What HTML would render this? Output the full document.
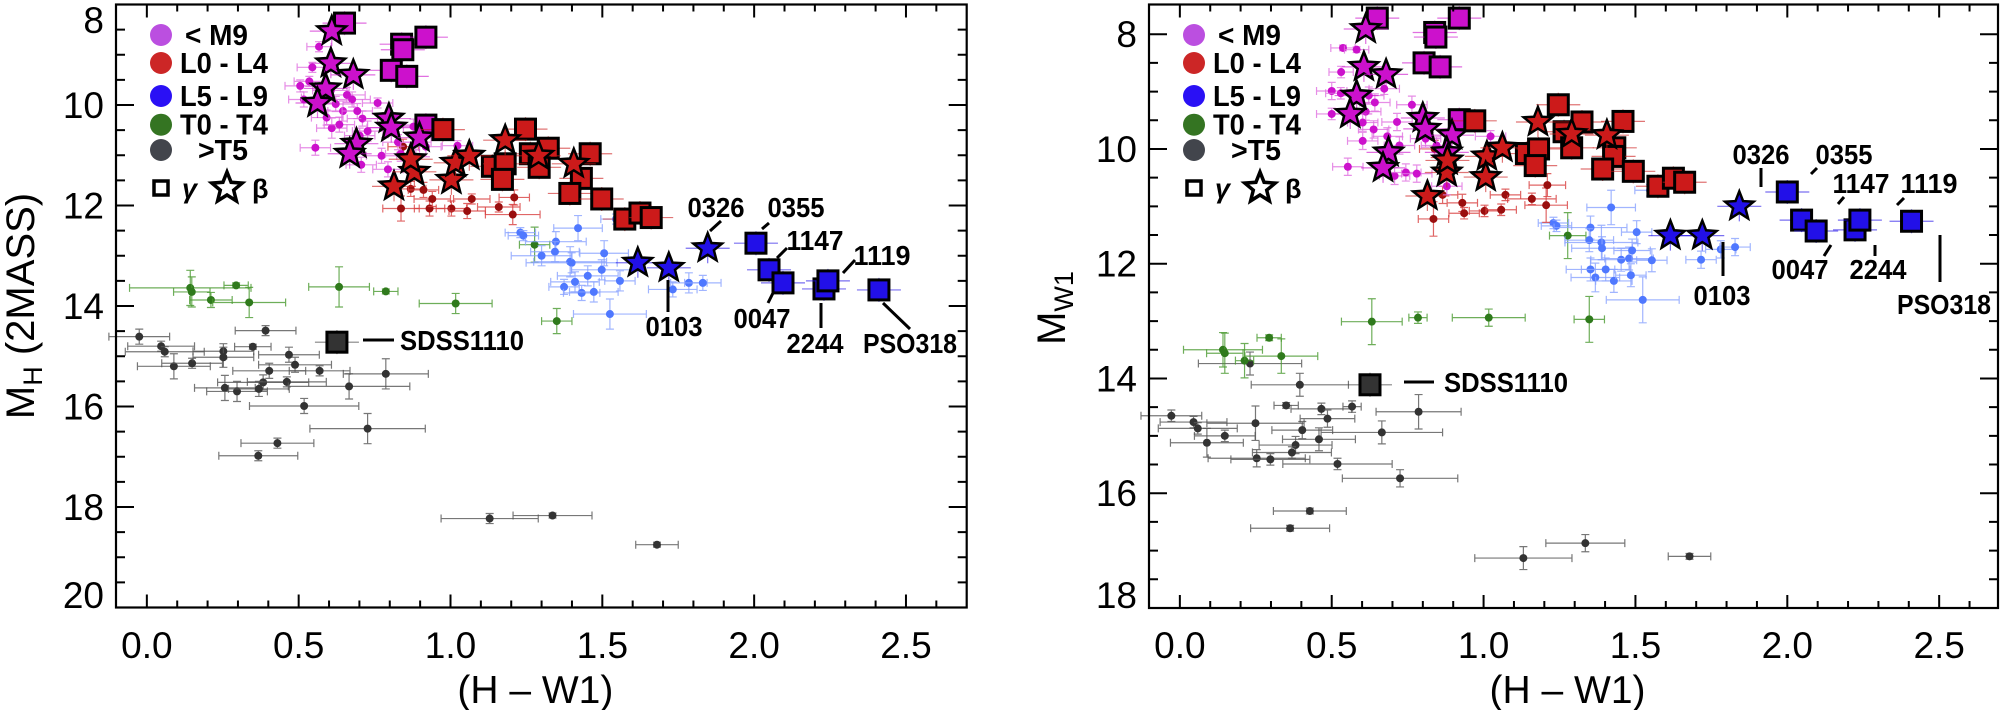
<!DOCTYPE html>
<html><head><meta charset="utf-8"><style>
html,body{margin:0;padding:0;background:#fff;}
svg{display:block;font-family:"Liberation Sans",Arial,sans-serif;}
</style></head><body>
<svg id="chart" width="2001" height="710" viewBox="0 0 2001 710" xmlns="http://www.w3.org/2000/svg">
<g id="layer"></g>
</svg>
<script>
const xTicks = [0.0, 0.5, 1.0, 1.5, 2.0, 2.5];
const xTickLabels = ["0.0","0.5","1.0","1.5","2.0","2.5"];
const leftYTicks = [8,10,12,14,16,18,20];
const rightYTicks = [8,10,12,14,16,18];
const L_magDots = [[0.505,9.62,.05,.12],[0.535,9.53,.05,.1],[0.567,8.84,.04,.1],[0.545,9.25,.05,.1],[0.606,9.71,.06,.15],[0.622,9.98,.06,.15],[0.646,10.12,.05,.2],[0.676,9.89,.06,.15],[0.71,10.27,.05,.15],[0.76,9.96,.05,.1],[0.785,10.45,.06,.2],[0.592,10.25,.05,.15],[0.609,10.46,.05,.2],[0.555,10.85,.05,.15],[0.706,11.19,.05,.15],[0.773,11.01,.05,.15],[0.836,10.97,.05,.15],[0.878,10.43,.05,.15],[0.919,10.83,.05,.2],[1.023,10.81,.05,.1],[0.794,11.28,.05,.15],[0.701,10.61,.05,.15],[0.517,9.89,.05,.15],[0.559,9.85,.05,.15],[0.659,9.8,.06,.15],[0.693,10.12,.05,.15],[0.727,10.52,.05,.2],[0.827,10.74,.05,.15],[0.634,10.39,.05,.15],[0.886,10.74,.05,.15]];
const L_redDots = [[0.837,12.06,.06,.25],[0.931,12.06,.05,.15],[0.94,11.87,.06,.15],[1.003,12.06,.05,.15],[1.055,12.11,.06,.15],[1.07,11.87,.06,.1],[1.159,12.03,.07,.1],[1.205,12.18,.09,.2],[1.21,11.84,.05,.15],[0.869,11.67,.05,.15],[0.844,10.83,.05,.15],[0.911,11.69,.05,.15]];
const L_blueDots = [[1.23,12.54,.05,.1],[1.24,12.6,.05,.1],[1.347,12.72,.1,.2],[1.344,12.92,.08,.2],[1.394,13.12,.12,.3],[1.42,12.45,.08,.25],[1.506,12.95,.08,.25],[1.399,13.14,.15,.2],[1.374,13.62,.05,.15],[1.41,13.52,.08,.2],[1.452,13.4,.1,.2],[1.498,13.28,.1,.2],[1.432,13.74,.06,.15],[1.472,13.72,.08,.2],[1.558,13.5,.05,.2],[1.525,14.16,.12,.3],[1.732,13.67,.08,.15],[1.785,13.54,.06,.2],[1.831,13.54,.06,.15],[1.545,12.27,.05,.1],[1.30,13.0,.1,.2]];
const L_greenDots = [[0.143,13.64,.2,.35],[0.148,13.72,.06,.3],[0.211,13.88,.07,.15],[0.294,13.59,.04,.05],[0.337,13.93,.12,.3],[0.633,13.62,.1,.4],[0.787,13.71,.04,.05],[1.017,13.95,.12,.2],[1.277,12.78,.05,.35],[1.35,14.3,.05,.25]];
const L_blackDots = [[-0.025,14.61,.1,.15],[0.047,14.8,.11,.1],[0.059,14.91,.13,.1],[0.089,15.2,.12,.25],[0.149,15.14,.1,.1],[0.252,14.9,.1,.15],[0.252,15.02,.1,.2],[0.257,15.63,.1,.25],[0.297,15.7,.1,.2],[0.349,14.81,.06,.05],[0.391,14.49,.1,.1],[0.403,15.29,.12,.15],[0.383,15.52,.15,.15],[0.369,15.65,.1,.15],[0.461,15.51,.13,.1],[0.468,14.97,.1,.15],[0.488,15.17,.12,.15],[0.569,15.29,.1,.1],[0.518,15.99,.18,.15],[0.666,15.6,.2,.25],[0.787,15.35,.14,.3],[0.727,16.44,.19,.3],[0.43,16.73,.12,.1],[0.367,16.98,.13,.1],[1.129,18.23,.16,.1],[1.336,18.17,.13,.05],[1.68,18.75,.07,.05]];
const L_magSq = [[0.651,8.37],[0.839,8.79],[0.843,8.9],[0.919,8.65],[0.805,9.31],[0.856,9.43],[0.919,10.4]];
const L_redSq = [[0.975,10.49],[1.247,10.48],[1.263,10.97],[1.322,10.86],[1.292,11.24],[1.138,11.22],[1.18,11.17],[1.171,11.48],[1.46,10.97],[1.431,11.46],[1.393,11.76],[1.498,11.87],[1.574,12.27],[1.624,12.15],[1.661,12.24]];
const L_blueSq = [[2.006,12.75],[2.049,13.28],[2.095,13.54],[2.23,13.66],[2.243,13.5],[2.411,13.68]];
const L_magStar = [[0.609,8.53],[0.606,9.17],[0.68,9.4],[0.589,9.67],[0.562,9.96],[0.797,10.27],[0.805,10.45],[0.69,10.77],[0.668,10.97],[0.898,10.65]];
const L_redStar = [[0.814,11.62],[0.881,11.33],[0.869,11.08],[1.003,11.49],[1.017,11.15],[1.062,11.01],[1.18,10.7],[1.29,11.01],[1.406,11.17]];
const L_blueStar = [[1.617,13.14],[1.719,13.24],[1.847,12.85]];
const L_sdss = [[0.626,14.72]];

const R_magDots = [[0.537,8.24,.04,.05],[0.582,8.27,.04,.05],[0.531,8.66,.04,.1],[0.5,8.99,.05,.15],[0.53,9.03,.05,.1],[0.622,9.07,.05,.15],[0.642,9.19,.05,.15],[0.673,8.95,.05,.1],[0.612,9.35,.05,.15],[0.602,9.54,.05,.15],[0.638,9.66,.05,.15],[0.715,9.53,.05,.15],[0.764,9.23,.05,.15],[0.809,9.82,.05,.15],[0.723,9.94,.05,.15],[0.602,9.86,.05,.15],[0.553,10.31,.05,.15],[0.707,10.47,.05,.15],[0.744,10.41,.05,.15],[0.78,10.43,.05,.15],[0.879,10.65,.05,.15],[1.023,9.78,.05,.1],[0.845,9.94,.05,.15],[0.5,9.39,.05,.1],[0.683,9.78,.05,.15]];
const R_redDots = [[0.839,10.0,.05,.15],[0.865,10.8,.05,.15],[0.835,11.22,.05,.3],[0.93,10.94,.05,.15],[0.936,11.12,.05,.1],[1.003,11.08,.05,.1],[1.058,11.06,.05,.1],[1.072,10.8,.05,.1],[1.159,10.87,.08,.1],[1.206,10.98,.07,.3],[1.21,10.63,.06,.2]];
const R_blueDots = [[1.23,11.29,.05,.1],[1.24,11.34,.05,.1],[1.352,11.37,.12,.2],[1.348,11.59,.08,.2],[1.388,11.63,.12,.3],[1.42,11.02,.08,.3],[1.39,11.73,.1,.2],[1.352,12.1,.08,.2],[1.402,12.1,.08,.2],[1.368,12.24,.08,.25],[1.429,12.3,.06,.2],[1.453,11.93,.1,.2],[1.479,11.91,.08,.2],[1.489,11.77,.06,.2],[1.485,12.2,.05,.2],[1.504,11.45,.05,.2],[1.554,11.94,.05,.2],[1.524,12.63,.12,.4],[1.548,10.72,.05,.1],[1.716,11.93,.05,.15],[1.781,11.75,.05,.15],[1.828,11.71,.05,.15]];
const R_greenDots = [[0.142,13.5,.13,.3],[0.148,13.56,.06,.35],[0.213,13.69,.03,.3],[0.294,13.29,.04,.05],[0.334,13.61,.12,.3],[0.632,13.01,.1,.4],[0.784,12.94,.03,.1],[1.017,12.94,.12,.15],[1.277,11.51,.06,.4],[1.348,12.97,.05,.4]];
const R_blackDots = [[-0.028,14.65,.1,.1],[0.045,14.76,.11,.1],[0.059,14.87,.13,.1],[0.089,15.12,.12,.25],[0.148,15.0,.1,.1],[0.231,13.74,.17,.2],[0.249,14.78,.16,.3],[0.253,15.39,.16,.15],[0.298,15.41,.13,.1],[0.35,14.47,.04,.05],[0.395,14.11,.16,.2],[0.403,14.9,.1,.15],[0.381,15.16,.12,.15],[0.369,15.29,.13,.1],[0.458,15.06,.12,.2],[0.466,14.53,.1,.1],[0.486,14.7,.09,.15],[0.567,14.49,.03,.1],[0.519,15.49,.18,.1],[0.665,14.94,.2,.2],[0.786,14.58,.14,.3],[0.725,15.74,.19,.15],[0.428,16.31,.12,.05],[0.363,16.61,.13,.05],[1.131,17.13,.16,.2],[1.335,16.87,.13,.15],[1.678,17.1,.07,.05]];
const R_magSq = [[0.65,7.72],[0.839,7.97],[0.843,8.05],[0.92,7.72],[0.804,8.5],[0.857,8.57],[0.92,9.49]];
const R_redSq = [[0.971,9.51],[1.246,9.23],[1.265,9.7],[1.324,9.53],[1.29,9.98],[1.141,10.08],[1.181,10.0],[1.17,10.29],[1.459,9.52],[1.432,9.98],[1.428,10.13],[1.392,10.35],[1.493,10.39],[1.574,10.65],[1.625,10.51],[1.662,10.58]];
const R_blueSq = [[2.0,10.75],[2.047,11.24],[2.095,11.43],[2.223,11.41],[2.239,11.24],[2.409,11.26]];
const R_magStar = [[0.612,7.91],[0.606,8.57],[0.679,8.7],[0.582,9.07],[0.561,9.39],[0.8,9.46],[0.808,9.65],[0.687,10.06],[0.669,10.33],[0.896,9.76],[0.879,10.06]];
const R_redStar = [[0.815,10.82],[0.879,10.41],[0.881,10.2],[1.011,10.13],[1.007,10.49],[1.062,9.98],[1.179,9.53],[1.29,9.74],[1.406,9.76]];
const R_blueStar = [[1.615,11.51],[1.72,11.51],[1.842,11.0]];
const R_sdss = [[0.626,14.11]];

const NS = "http://www.w3.org/2000/svg";
const layer = document.getElementById('layer');
function mk(tag, attrs, parent, text){
  const e = document.createElementNS(NS, tag);
  for (const k in attrs) e.setAttribute(k, attrs[k]);
  if (text !== undefined) e.textContent = text;
  (parent||layer).appendChild(e);
  return e;
}
function makePanel(box, xd, yd){
  return {
    box: box,
    X: v => box.l + (v - xd[0]) / (xd[1] - xd[0]) * (box.r - box.l),
    Y: v => box.t + (v - yd[0]) / (yd[1] - yd[0]) * (box.b - box.t)
  };
}
const LP = makePanel({l:116,t:4.5,r:966.7,b:607.5}, [-0.1016, 2.7], [8, 20]);
const RP = makePanel({l:1149,t:4.5,r:1998,b:608}, [-0.1016, 2.6937], [7.4826, 18]);

function starPath(cx, cy, R, r){
  let d = "";
  for (let i=0;i<10;i++){
    const a = -Math.PI/2 + i*Math.PI/5;
    const rr = i%2===0 ? R : r;
    d += (i===0?"M":"L") + (cx+rr*Math.cos(a)).toFixed(1) + "," + (cy+rr*Math.sin(a)).toFixed(1);
  }
  return d + "Z";
}

function drawDots(P, data, dotColor, barColor, name, g){
  data.forEach(d => {
    const cx = P.X(d[0]), cy = P.Y(d[1]);
    const x1 = P.X(d[0]-d[2]), x2 = P.X(d[0]+d[2]);
    const y1 = P.Y(d[1]-d[3]), y2 = P.Y(d[1]+d[3]);
    const bars = mk('path', {d:`M${x1},${cy}H${x2}M${x1},${cy-4}V${cy+4}M${x2},${cy-4}V${cy+4}M${cx},${y1}V${y2}M${cx-4},${y1}H${cx+4}M${cx-4},${y2}H${cx+4}`, stroke:barColor, 'stroke-width':1.2, fill:'none', opacity:0.8}, g);
    
    
    const c = mk('circle', {cx:cx, cy:cy, r:4, fill:dotColor}, g);
    
    
  });
}
function drawSquares(P, data, fill, name, g){
  const s = 20;
  data.forEach(d => {
    const cx = P.X(d[0]), cy = P.Y(d[1]);
    mk('path', {d:`M${cx-22},${cy}H${cx+22}M${cx},${cy-12}V${cy+12}`, stroke:fill, 'stroke-width':1.2, opacity:0.6}, g);
    const r = mk('rect', {x:cx-s/2, y:cy-s/2, width:s, height:s, fill:fill, stroke:'#000', 'stroke-width':3}, g);
    
    
  });
}
function drawStars(P, data, fill, name, g){
  data.forEach(d => {
    const cx = P.X(d[0]), cy = P.Y(d[1]);
    mk('path', {d:`M${cx-22},${cy}H${cx+22}M${cx},${cy-15}V${cy+15}`, stroke:fill, 'stroke-width':1.2, opacity:0.6}, g);
    const s = mk('path', {d:starPath(cx, cy, 15, 6.5), fill:fill, stroke:'#000', 'stroke-width':2.5}, g);
    
    
  });
}

function axes(P, yTicks, which){
  const b = P.box;
  const g = mk('g', {});
  
  
  const fr = mk('rect', {x:b.l, y:b.t, width:b.r-b.l, height:b.b-b.t, fill:'none', stroke:'#000', 'stroke-width':2.2}, g);
  
  
  let d = "";
  for (let v = -0.1; v <= 2.75; v += 0.1){
    const vv = Math.round(v*10)/10;
    const x = P.X(vv);
    if (x < b.l+1 || x > b.r-1) continue;
    const major = Math.abs(vv*2 - Math.round(vv*2)) < 1e-6;
    const L = major ? 13 : 7;
    d += `M${x},${b.b}V${b.b-L}M${x},${b.t}V${b.t+L}`;
  }
  for (let v = 7; v <= 20; v += 0.5){
    const y = P.Y(v);
    if (y < b.t+1 || y > b.b-1) continue;
    const major = Math.abs(v/2 - Math.round(v/2)) < 1e-6;
    const L = major ? 18 : 9;
    d += `M${b.l},${y}H${b.l+L}M${b.r},${y}H${b.r-L}`;
  }
  mk('path', {d:d, stroke:'#000', 'stroke-width':2}, g);
  xTicks.forEach((v,i) => {
    const t = mk('text', {x:P.X(v), y:658, 'font-size':37, 'text-anchor':'middle'}, g, xTickLabels[i]);
    
    
  });
  yTicks.forEach(v => {
    let y = P.Y(v) + 13;
    if (y < 33) y = 33;
    if (y > 608) y = 608;
    const t = mk('text', {x:b.l-12, y:y, 'font-size':37, 'text-anchor':'end'}, g, String(v));
    
    
  });
  const xt = mk('text', {x:(b.l+b.r)/2 - 6, y:703, 'font-size':39, 'text-anchor':'middle'}, g, '(H – W1)');
  
  
  return g;
}

function legend(x0, which){
  const g = mk('g', {});
  
  
  const items = [["< M9","#bb4fe0",35,185,63],["L0 - L4","#cc2626",63,180,88],["L5 - L9","#2a10f5",96,180,88],["T0 - T4","#347422",124.7,180,88],[">T5","#42454c",150,198,50]];
  items.forEach(it => {
    const c = mk('circle', {cx:x0, cy:it[2], r:11, fill:it[1]}, g);
    
    
    const t = mk('text', {x:x0 + (it[3]-161), y:it[2]+10, 'font-size':29, 'font-weight':'bold', textLength: it[4], lengthAdjust:'spacingAndGlyphs'}, g, it[0]);
    
    
  });
  const sq = mk('rect', {x:x0-7, y:181, width:14, height:14, fill:'#fff', stroke:'#000', 'stroke-width':3.5}, g);
  
  
  const gt = mk('text', {x:x0+21, y:198, 'font-size':27, 'font-weight':'bold', 'font-style':'italic'}, g, 'γ');
  
  
  mk('path', {d:starPath(x0+66, 188, 18, 8), fill:'#888', opacity:0.35}, g);
  const st = mk('path', {d:starPath(x0+66, 188, 16, 7), fill:'#fff', stroke:'#000', 'stroke-width':3.5}, g);
  
  
  const bt = mk('text', {x:x0+91, y:198, 'font-size':27, 'font-weight':'bold'}, g, 'β');
  
  
}

function labels(list, which){
  const g = mk('g', {});
  
  
  list.forEach(l => {
    const w = l[0].length === 4 ? 57 : (l[0] === 'PSO318' ? 94 : 124);
    const anchor = l[7] || 'middle';
    const t = mk('text', {x:l[1], y:l[2]+10, 'font-size':28, 'font-weight':'bold', 'text-anchor':anchor, textLength:w, lengthAdjust:'spacingAndGlyphs'}, g, l[0]);
    
    
    mk('line', {x1:l[3], y1:l[4], x2:l[5], y2:l[6], stroke:'#000', 'stroke-width':3}, g);
  });
}

function panel(P, D, which){
  const g = mk('g', {});
  
  
  drawDots(P, D.black, '#333', '#555', 'gt-t5', g);
  drawDots(P, D.green, '#2f7a1c', '#4a9a30', 't0-t4', g);
  drawDots(P, D.blue, '#4f78ff', '#8aa2ff', 'l5-l9', g);
  drawDots(P, D.red, '#9a0e0e', '#d84040', 'l0-l4', g);
  drawDots(P, D.mag, '#cc11cc', '#e070e0', 'lt-m9', g);
  drawSquares(P, D.magSq, '#cc11cc', 'gamma-lt-m9', g);
  drawStars(P, D.magStar, '#cc11cc', 'beta-lt-m9', g);
  drawSquares(P, D.redSq, '#cc1a1a', 'gamma-l0-l4', g);
  drawStars(P, D.redStar, '#cc1a1a', 'beta-l0-l4', g);
  drawSquares(P, D.blueSq, '#2210e8', 'gamma-l5-l9', g);
  drawStars(P, D.blueStar, '#2210e8', 'beta-l5-l9', g);
  drawSquares(P, D.sdss, '#333', 'sdss1110', g);
}

panel(LP, {black:L_blackDots, green:L_greenDots, blue:L_blueDots, red:L_redDots, mag:L_magDots, magSq:L_magSq, magStar:L_magStar, redSq:L_redSq, redStar:L_redStar, blueSq:L_blueSq, blueStar:L_blueStar, sdss:L_sdss}, 'left');
panel(RP, {black:R_blackDots, green:R_greenDots, blue:R_blueDots, red:R_redDots, mag:R_magDots, magSq:R_magSq, magStar:R_magStar, redSq:R_redSq, redStar:R_redStar, blueSq:R_blueSq, blueStar:R_blueStar, sdss:R_sdss}, 'right');

axes(LP, leftYTicks, 'left');
axes(RP, rightYTicks, 'right');

const yl = mk('text', {x:0, y:0, 'font-size':40, 'text-anchor':'middle', transform:'translate(34,306) rotate(-90)'}, layer);


mk('tspan', {}, yl, 'M');
mk('tspan', {'font-size':27, dy:8}, yl, 'H');
mk('tspan', {dy:-8}, yl, ' (2MASS)');
const yr = mk('text', {x:0, y:0, 'font-size':40, 'text-anchor':'middle', transform:'translate(1065,308) rotate(-90)'}, layer);


mk('tspan', {}, yr, 'M');
mk('tspan', {'font-size':27, dy:8}, yr, 'W1');

legend(161, 'left');
legend(1194, 'right');

labels([
  ['0326',716,207,710,231,721,221],
  ['0355',796,207,762,229,769,223],
  ['1147',815,240,777,258,787,248],
  ['1119',882,255,843,273,855,260],
  ['0047',762,318,773,293,768,303],
  ['0103',674,326,668,280,668,312],
  ['2244',815,343,821,303,821,328],
  ['PSO318',910,343,883,303,910,329],
  ['SDSS1110',400,340,363,340,394,340,'start']
], 'left');
labels([
  ['0326',1761,154,1761,168,1761,187],
  ['0355',1844,154,1811,174,1817,168],
  ['1147',1861,183,1838,204,1844,197],
  ['1119',1929,183,1897,205,1904,198],
  ['0047',1800,269,1824,256,1831,245],
  ['2244',1878,269,1875,245,1875,256],
  ['0103',1722,295,1723,242,1723,276],
  ['PSO318',1944,304,1940,235,1940,282],
  ['SDSS1110',1444,382,1404,382,1434,382,'start']
], 'right');
</script>
</body></html>
